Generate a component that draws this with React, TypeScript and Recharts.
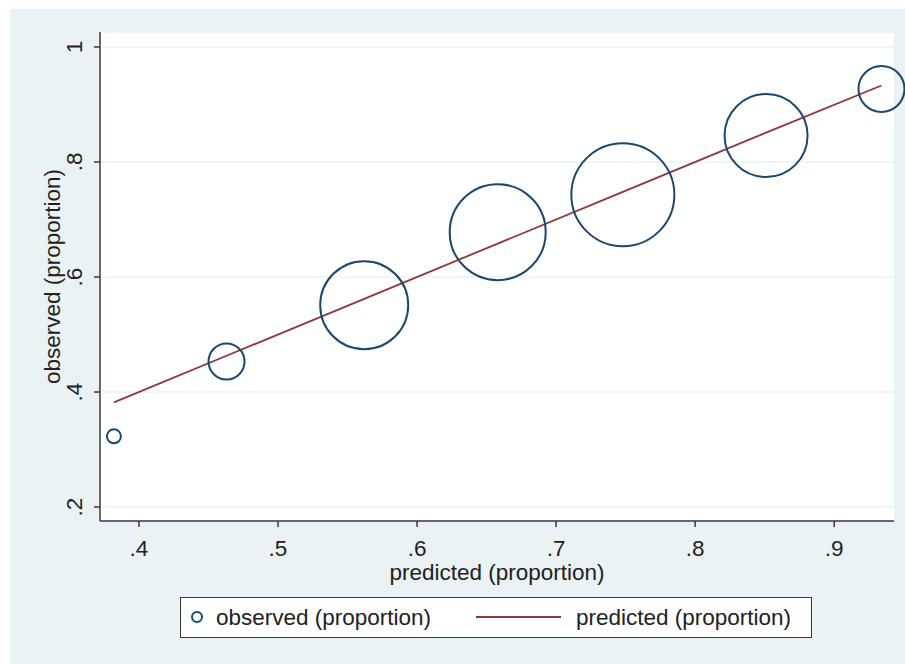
import React from "react";
import {
  ComposedChart,
  Scatter,
  Line,
  XAxis,
  YAxis,
  ZAxis,
  CartesianGrid,
} from "recharts";

// predicted proportion per group (x), observed proportion, predicted proportion, group weight
const predictedX = [0.382, 0.463, 0.562, 0.658, 0.748, 0.851, 0.934];
const observed = [0.323, 0.453, 0.551, 0.678, 0.743, 0.846, 0.927];
const predicted = [0.382, 0.463, 0.562, 0.658, 0.748, 0.851, 0.933];
const weights = [49, 324, 1936, 2304, 2652, 1722, 529];

const xTicks = [0.4, 0.5, 0.6, 0.7, 0.8, 0.9];
const yTicks = [0.2, 0.4, 0.6, 0.8, 1];

const data = predictedX.map((x, i) => ({
  x,
  observed: observed[i],
  predicted: predicted[i],
  weight: weights[i],
}));

const NAVY = "#1a476f";
const MAROON = "#90353b";
const AXIS = "#3a3a3a";
const BG = "#eaf2f3";
const FONT = "'Liberation Sans', Arial, sans-serif";
const FS = 22.5;

const fmt = (v: number) => {
  const s = String(Math.round(v * 10) / 10);
  return s.startsWith("0.") ? s.slice(1) : s;
};

const XTick = (props: any) => {
  const { x, y, payload } = props;
  return (
    <text x={x} y={y + 27} textAnchor="middle" fontSize={FS} fontFamily={FONT} fill="#222">
      {fmt(payload.value)}
    </text>
  );
};

const YTick = (props: any) => {
  const { x, y, payload } = props;
  const bx = x - 10;
  return (
    <text
      x={bx}
      y={y}
      textAnchor="middle"
      fontSize={FS}
      fontFamily={FONT}
      fill="#222"
      transform={`rotate(-90, ${bx}, ${y})`}
    >
      {fmt(payload.value)}
    </text>
  );
};

const XTitle = (props: any) => {
  const vb = props.viewBox;
  return (
    <text
      x={vb.x + vb.width / 2}
      y={vb.y + 59}
      textAnchor="middle"
      fontSize={FS}
      fontFamily={FONT}
      fill="#222"
    >
      predicted (proportion)
    </text>
  );
};

const YTitle = (props: any) => {
  const vb = props.viewBox;
  const bx = vb.x + vb.width - 40;
  const cy = vb.y + vb.height / 2;
  return (
    <text
      x={bx}
      y={cy}
      textAnchor="middle"
      fontSize={FS}
      fontFamily={FONT}
      fill="#222"
      transform={`rotate(-90, ${bx}, ${cy})`}
    >
      observed (proportion)
    </text>
  );
};

export default function App() {
  return (
    <div
      style={{
        position: "absolute",
        left: 0,
        top: 0,
        width: 905,
        height: 664,
        background: "#ffffff",
        overflow: "hidden",
      }}
    >
      <div
        style={{
          position: "absolute",
          left: 10,
          top: 9,
          width: 895,
          height: 655,
          background: BG,
        }}
      />
      <div style={{ position: "absolute", left: 0, top: 0 }}>
        <ComposedChart
          width={905}
          height={664}
          data={data}
          margin={{ top: 32, right: 11, bottom: 83, left: 20 }}
        >
          <CartesianGrid
            horizontal={true}
            vertical={false}
            stroke={BG}
            strokeWidth={1.5}
            fill="#ffffff"
          />
          <XAxis
            type="number"
            dataKey="x"
            domain={[0.372, 0.943]}
            ticks={xTicks}
            height={60}
            tickSize={6}
            tickMargin={2}
            stroke={AXIS}
            axisLine={{ stroke: AXIS, strokeWidth: 1.5 }}
            tickLine={{ stroke: AXIS, strokeWidth: 1.5 }}
            tick={<XTick />}
            label={<XTitle />}
            interval={0}
          />
          <YAxis
            type="number"
            domain={[0.1757, 1.026]}
            ticks={yTicks}
            width={80}
            tickSize={6}
            tickMargin={2}
            stroke={AXIS}
            axisLine={{ stroke: AXIS, strokeWidth: 1.5 }}
            tickLine={{ stroke: AXIS, strokeWidth: 1.5 }}
            tick={<YTick />}
            label={<YTitle />}
            interval={0}
          />
          <ZAxis dataKey="weight" domain={[0, 2652]} range={[0, 2652 * Math.PI]} />
          <Line
            type="linear"
            dataKey="predicted"
            stroke={MAROON}
            strokeWidth={1.8}
            dot={false}
            activeDot={false}
            isAnimationActive={false}
          />
          <Scatter
            dataKey="observed"
            fill="none"
            stroke={NAVY}
            strokeWidth={2}
            isAnimationActive={false}
          />
        </ComposedChart>
      </div>
      <div
        style={{
          position: "absolute",
          left: 180,
          top: 597,
          width: 632,
          height: 41,
          boxSizing: "border-box",
          border: `1.5px solid ${AXIS}`,
          background: "#ffffff",
        }}
      >
        <svg width={632} height={41} style={{ position: "absolute", left: -1.5, top: -1.5 }}>
          <circle cx={17} cy={20} r={5} fill="none" stroke={NAVY} strokeWidth={2} />
          <text x={36} y={28} fontSize={FS} fontFamily={FONT} fill="#222">
            observed (proportion)
          </text>
          <line x1={296} y1={20} x2={381} y2={20} stroke={MAROON} strokeWidth={1.8} />
          <text x={396} y={28} fontSize={FS} fontFamily={FONT} fill="#222">
            predicted (proportion)
          </text>
        </svg>
      </div>
    </div>
  );
}
